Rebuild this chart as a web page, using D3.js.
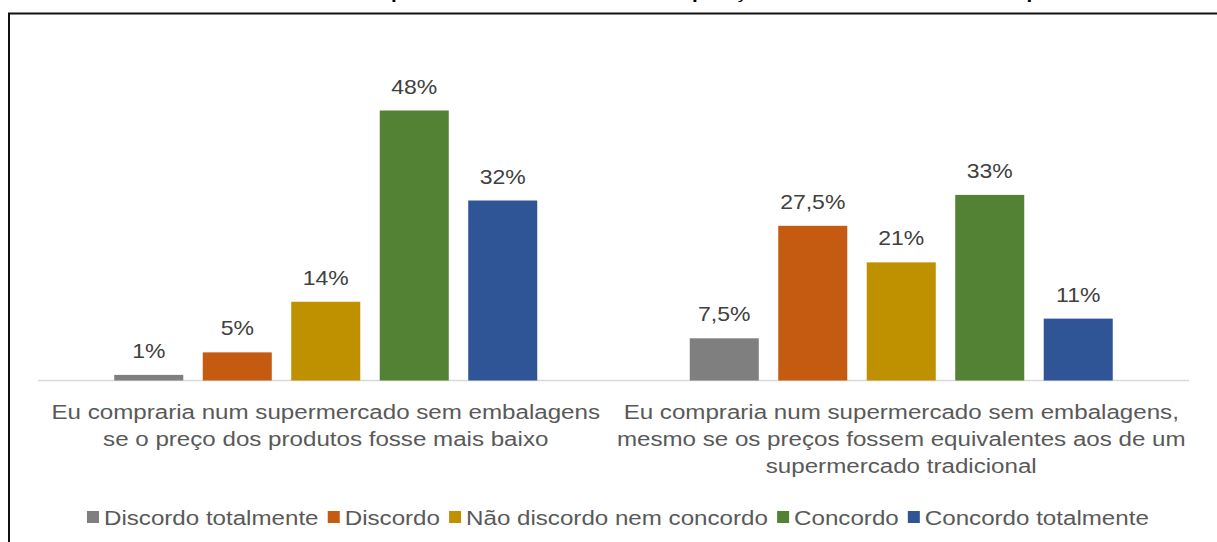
<!DOCTYPE html>
<html>
<head>
<meta charset="utf-8">
<script src="https://cdn.jsdelivr.net/npm/d3@7"></script>
<style>
  body { margin: 0; background: #fff; }
  svg { display: block; font-family: 'Liberation Sans', Arial, sans-serif; }
</style>
</head>
<body>
<svg width="1217" height="542"></svg>
<script>
var svg = d3.select('svg');

// data
var titleText = 'Resultados obtidos – Opinião dos clientes sobre a disposição de abdicar totalmente do plástico';
var categories = ['q1', 'q2'];
var categoryLines = [
    ['Eu compraria num supermercado sem embalagens', 'se o preço dos produtos fosse mais baixo'],
    ['Eu compraria num supermercado sem embalagens,', 'mesmo se os preços fossem equivalentes aos de um', 'supermercado tradicional']
];
var seriesNames = ['Discordo totalmente', 'Discordo', 'Não discordo nem concordo', 'Concordo', 'Concordo totalmente'];
var seriesColors = ['#7f7f7f', '#c55a11', '#bf9000', '#548235', '#2f5597'];
var valuesQ1 = [1, 5, 14, 48, 32];
var valuesQ2 = [7.5, 27.5, 21, 33, 11];
var allValues = [valuesQ1, valuesQ2];

// text in the picture is a bit wider than plain Arial
var sx = 1.15;

// layout
var plotLeft = 38, plotRight = 1189;
var baseY = 380.5, topY = 43;

var x0 = d3.scaleBand()
    .domain(categories)
    .range([plotLeft, plotRight])
    .paddingInner(0.265)
    .paddingOuter(0.1325);

var x1 = d3.scaleBand()
    .domain(seriesNames)
    .range([0, x0.bandwidth()])
    .paddingInner(0.22)
    .paddingOuter(0);

var y = d3.scaleLinear()
    .domain([0, 60])
    .range([baseY, topY]);

function fmt(v) {
    return String(v).replace('.', ',') + '%';
}

// frame
svg.append('rect')
    .attr('x', 9)
    .attr('y', 13.5)
    .attr('width', 1300)
    .attr('height', 700)
    .attr('fill', 'none')
    .attr('stroke', '#111')
    .attr('stroke-width', 2);

// title, mostly cut off above the picture
var title = svg.append('text')
    .attr('text-anchor', 'start')
    .style('font-weight', 'bold')
    .style('font-size', '18px')
    .style('fill', '#000')
    .text(titleText);
var pIndex = titleText.indexOf('p');
var pOffset = title.node().getSubStringLength(0, pIndex) + 1.5;
title.attr('transform', 'translate(' + [393 - pOffset * sx, -1.8] + ') scale(' + sx + ',1)');

// axis line
svg.append('line')
    .attr('x1', plotLeft)
    .attr('x2', plotRight)
    .attr('y1', baseY)
    .attr('y2', baseY)
    .attr('stroke', '#d9d9d9')
    .attr('stroke-width', 1.5);

// bars
var groups = svg.selectAll('.cat')
    .data(categories)
    .enter()
    .append('g')
    .attr('class', 'cat')
    .attr('transform', function(d) {
        return 'translate(' + [x0(d), 0] + ')';
    });

groups.selectAll('rect')
    .data(function(d, i) {
        return seriesNames.map(function(s, j) {
            return {series: s, value: allValues[i][j], color: seriesColors[j]};
        });
    })
    .enter()
    .append('rect')
    .attr('x', function(d) { return x1(d.series); })
    .attr('y', function(d) { return y(d.value); })
    .attr('width', x1.bandwidth())
    .attr('height', function(d) { return baseY - y(d.value); })
    .attr('fill', function(d) { return d.color; });

groups.selectAll('.val')
    .data(function(d, i) {
        return seriesNames.map(function(s, j) {
            return {series: s, value: allValues[i][j]};
        });
    })
    .enter()
    .append('text')
    .attr('class', 'val')
    .attr('text-anchor', 'middle')
    .attr('transform', function(d) {
        var cx = x1(d.series) + x1.bandwidth() / 2;
        return 'translate(' + [cx, y(d.value) - 17] + ') scale(' + sx + ',1)';
    })
    .style('font-size', '20px')
    .style('fill', '#404040')
    .text(function(d) { return fmt(d.value); });

// category labels
var lineH = 27;
svg.selectAll('.catlabel')
    .data(categories)
    .enter()
    .append('g')
    .attr('class', 'catlabel')
    .each(function(d, i) {
        var cx = x0(d) + x0.bandwidth() / 2;
        d3.select(this).selectAll('text')
            .data(categoryLines[i])
            .enter()
            .append('text')
            .attr('text-anchor', 'middle')
            .attr('transform', function(t, k) {
                return 'translate(' + [cx, 419 + k * lineH] + ') scale(' + sx + ',1)';
            })
            .style('font-size', '21px')
            .style('fill', '#595959')
            .text(function(t) { return t; });
    });

// legend
var legend = svg.append('g').attr('class', 'legend');
var sq = 12, sqGap = 5, itemGap = 9;
var items = legend.selectAll('.item')
    .data(seriesNames)
    .enter()
    .append('g')
    .attr('class', 'item');
items.append('rect')
    .attr('width', sq)
    .attr('height', sq)
    .attr('y', 511)
    .attr('fill', function(d, i) { return seriesColors[i]; });
items.append('text')
    .style('font-size', '21px')
    .style('fill', '#595959')
    .text(function(d) { return d; });

var cursor = 0;
items.each(function(d) {
    var g = d3.select(this);
    var w = g.select('text').node().getComputedTextLength() * sx;
    g.select('rect').attr('x', cursor);
    g.select('text').attr('transform', 'translate(' + [cursor + sq + sqGap, 525] + ') scale(' + sx + ',1)');
    cursor += sq + sqGap + w + itemGap;
});
var legendW = cursor - itemGap;
legend.attr('transform', 'translate(' + [618 - legendW / 2, 0] + ')');
</script>
</body>
</html>
